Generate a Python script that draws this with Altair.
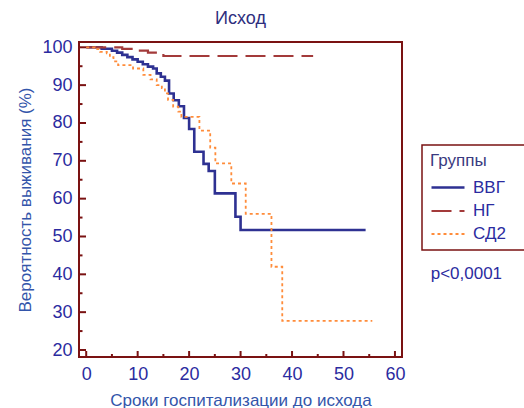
import altair as alt
import pandas as pd

FONT = "Liberation Sans"
FRAME = "#7a1212"
LABEL_BLUE = "#2b2ba0"
TITLE_BLUE = "#3355aa"

groups = ["ВВГ", "НГ", "СД2"]
colors = ["#2e3192", "#a33a3a", "#ff8c3a"]
dashes = [[1, 0], [20, 8], [3, 3]]
widths = [2.6, 1.8, 1.6]

vvg_t = [0, 3, 5, 6, 7, 8, 9, 10, 11, 12, 13, 13.7, 14.5, 15.3, 16.1, 17, 18, 19, 20, 21, 22.8, 23.8, 25, 29, 30, 54.3]
vvg_s = [100, 99.6, 99.1, 98.6, 98.0, 97.4, 96.8, 96.2, 95.5, 94.9, 94.4, 93.1, 92.2, 91.2, 87.8, 86.0, 84.4, 81.3, 78.4, 72.4, 69.2, 67.3, 61.4, 55.2, 51.7, 51.7]

ng_t = [0, 7, 10, 12, 15, 44.1]
ng_s = [100, 99.6, 99.1, 98.6, 97.7, 97.7]

sd2_t = [0, 1.7, 2.7, 4.0, 4.6, 5.3, 6.2, 9.1, 11.1, 12.5, 13.7, 14.7, 15.3, 15.9, 16.9, 17.9, 18.5, 22.0, 24.1, 25.1, 28.2, 31.0, 36.0, 38.1, 55.6]
sd2_s = [100, 99.5, 98.8, 98.4, 97.4, 96.3, 95.3, 94.4, 92.7, 91.5, 90.0, 89.2, 87.8, 86.1, 84.3, 83.0, 81.6, 78.0, 73.5, 69.3, 64.0, 56.0, 42.0, 27.7, 27.7]

x_major = [0, 10, 20, 30, 40, 50, 60]
x_minor = [5, 15, 25, 35, 45, 55]
y_major = [20, 30, 40, 50, 60, 70, 80, 90, 100]
y_minor = [25, 35, 45, 55, 65, 75, 85, 95]

title_text = "Исход"
x_title = "Сроки госпитализации до исхода"
y_title = "Вероятность выживания (%)"
legend_title = "Группы"
p_label = "p<0,0001"

rows = []
for g, ts, ss in [("ВВГ", vvg_t, vvg_s), ("НГ", ng_t, ng_s), ("СД2", sd2_t, sd2_s)]:
    for i, (t, s) in enumerate(zip(ts, ss)):
        rows.append({"group": g, "t": t, "s": s, "i": i})
df = pd.DataFrame(rows)

W, H = 323, 315
xscale = alt.Scale(domain=[-1.4, 61.37], nice=False, zero=False)
yscale = alt.Scale(domain=[18.15, 101.4], nice=False, zero=False)

x_axis = alt.Axis(
    values=x_major, domain=False, ticks=False, grid=False, labelPadding=8,
    labelFont=FONT, labelFontSize=18, labelColor=LABEL_BLUE,
    title=x_title, titleFont=FONT, titleFontSize=17, titleFontWeight="normal",
    titleColor=TITLE_BLUE, titlePadding=9)
y_axis = alt.Axis(
    values=y_major, domain=False, ticks=False, grid=False, labelPadding=7,
    labelFont=FONT, labelFontSize=18, labelColor=LABEL_BLUE,
    title=y_title, titleFont=FONT, titleFontSize=17, titleFontWeight="normal",
    titleColor=TITLE_BLUE, titlePadding=7)

# widen the legend box past the right edge (box is open on the right in the reference)
PAD = " " * 40 + "\u200b"
LABEL_PAD = "datum.label + '" + PAD + "'"
SYMBOL_PATH = "M-1,0H2.3"

def legend():
    return alt.Legend(title=legend_title, labelExpr=LABEL_PAD, symbolStrokeWidth=1.5)

lines = alt.Chart(df).mark_line(interpolate="step-after").encode(
    x=alt.X("t:Q", scale=xscale, axis=x_axis),
    y=alt.Y("s:Q", scale=yscale, axis=y_axis),
    color=alt.Color("group:N", scale=alt.Scale(domain=groups, range=colors), legend=legend()),
    strokeDash=alt.StrokeDash("group:N", scale=alt.Scale(domain=groups, range=dashes), legend=legend()),
    strokeWidth=alt.StrokeWidth("group:N", scale=alt.Scale(domain=groups, range=widths), legend=None),
    order="i:Q",
)

def xticks(vals, length):
    return alt.Chart(pd.DataFrame({"t": vals})).mark_rule(color=FRAME, strokeWidth=2).encode(
        x=alt.X("t:Q", scale=xscale, axis=x_axis), y=alt.value(H), y2=alt.value(H - length))

def yticks(vals, length):
    return alt.Chart(pd.DataFrame({"s": vals})).mark_rule(color=FRAME, strokeWidth=2).encode(
        y=alt.Y("s:Q", scale=yscale, axis=y_axis), x=alt.value(0), x2=alt.value(length))

ptext = alt.Chart(pd.DataFrame({"label": [p_label]})).mark_text(
    align="left", baseline="alphabetic", font=FONT, fontSize=17, color=LABEL_BLUE
).encode(x=alt.value(351.7), y=alt.value(237), text="label:N")

chart = alt.layer(
    lines, xticks(x_major, 6), xticks(x_minor, 3), yticks(y_major, 7), yticks(y_minor, 3.5), ptext
).properties(
    width=W, height=H,
    title=alt.TitleParams(text=title_text, font=FONT, fontSize=18, fontWeight="normal",
                          color="#2e2e7e", anchor="middle", frame="group", offset=10),
    autosize=alt.AutoSizeParams(type="none"),
    padding={"left": 79, "top": 42, "right": 122, "bottom": 51},
).configure_view(stroke=FRAME, strokeWidth=2).configure_legend(
    orient="none", legendX=343, legendY=103, strokeColor=FRAME, strokeWidth=1.5,
    padding=8, symbolType=SYMBOL_PATH, symbolSize=400, symbolStrokeWidth=1.5,
    labelOffset=20, labelFont=FONT, labelFontSize=17, labelColor=LABEL_BLUE,
    labelLimit=600,
    titleFont=FONT, titleFontSize=17, titleFontWeight="normal", titleColor="#3a3a80",
    rowPadding=3.5, titlePadding=6,
)

chart.save("out.html", embed_options={"renderer": "svg", "actions": False})
